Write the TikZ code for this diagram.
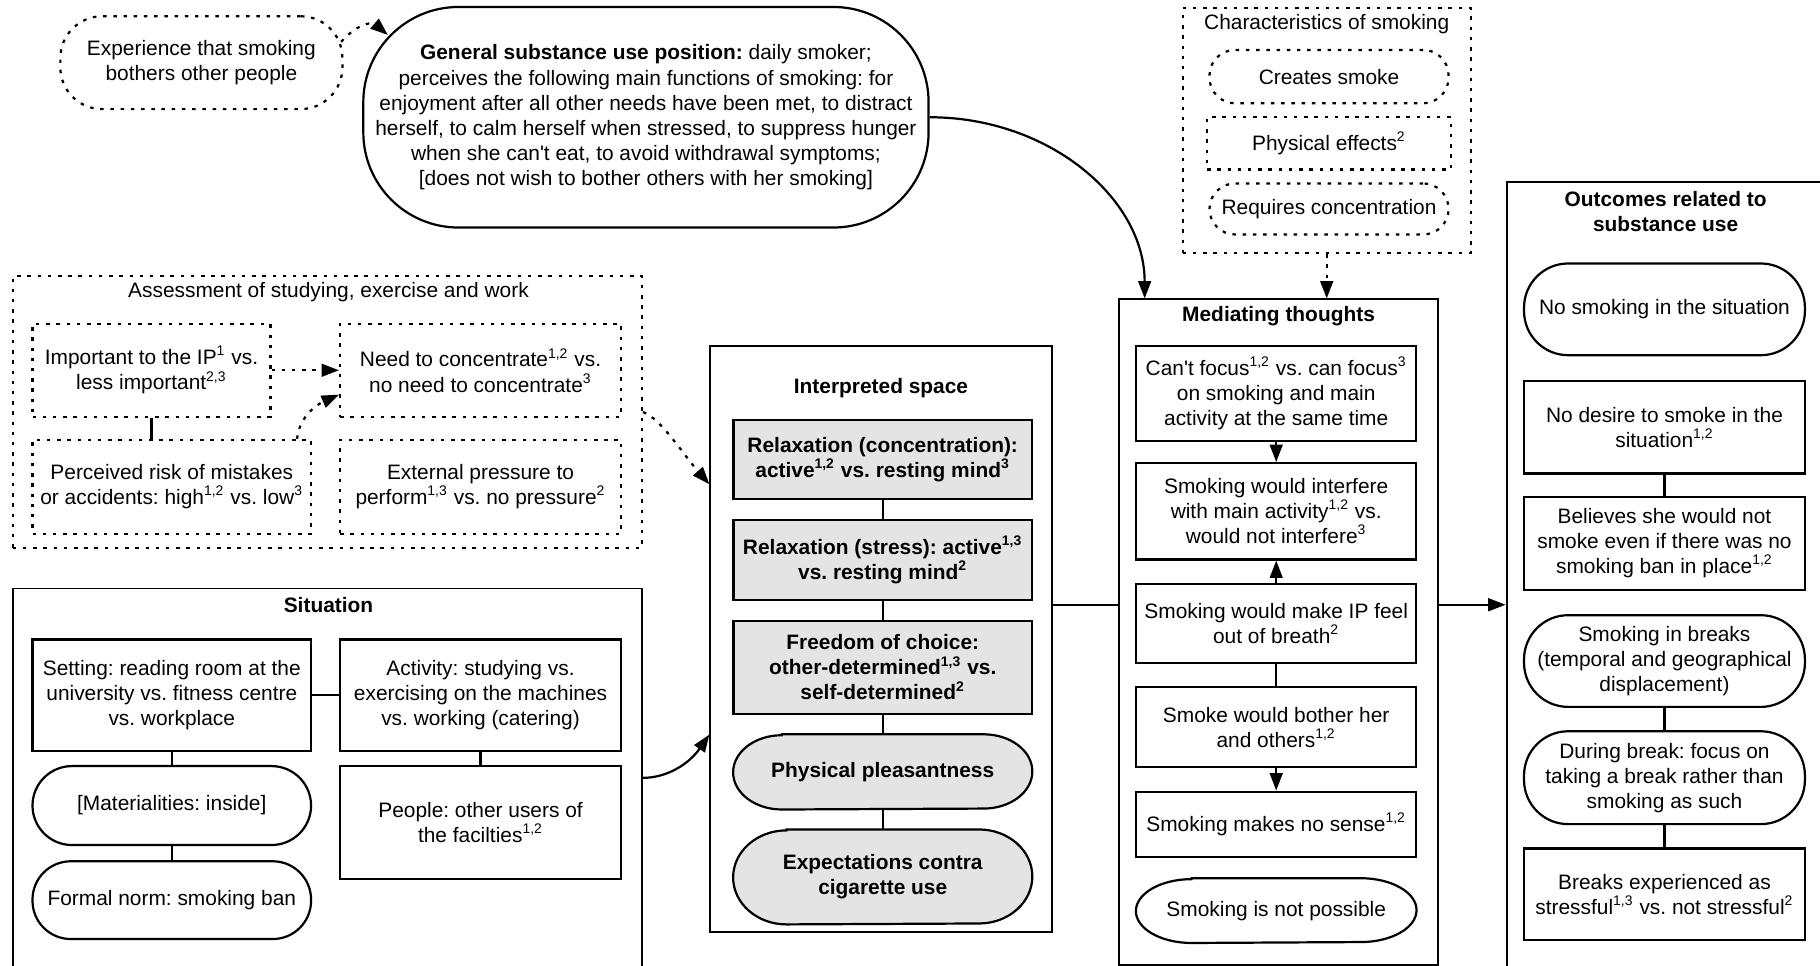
\documentclass[tikz,border=0pt]{standalone}
\usepackage{fontspec}
\setmainfont{Liberation Sans}
\newfontfamily\lib{Liberation Sans}
\usetikzlibrary{arrows.meta,calc,backgrounds}

\newcommand{\fs}{\lib\fontsize{9pt}{10.8pt}\selectfont\frenchspacing}
\newcommand{\sups}[1]{\textsuperscript{#1}}
\definecolor{boxgray}{HTML}{E4E4E4}

% Oval outline with elliptical ends around a named node:
% #1 style, #2 node, #3 end x-radius (pt), #4 end y-radius (pt)
\newcommand{\ovalframe}[4]{%
  \path[#1] ($(#2.north west)+(2*#3,0)$) -- ($(#2.north east)+(-2*#3,0)$)
    arc[start angle=90,end angle=-90,x radius=#3pt,y radius=#4pt]
    -- ($(#2.south west)+(2*#3,0)$)
    arc[start angle=270,end angle=90,x radius=#3pt,y radius=#4pt] -- cycle;}

\begin{document}
\begin{tikzpicture}[x=0.5pt,y=-0.5pt,
  every node/.style={font=\fs, inner sep=0pt, align=center},
  sz/.code 2 args={%
    \pgfmathsetlengthmacro\nodew{#1*0.5pt}%
    \pgfmathsetlengthmacro\nodeh{#2*0.5pt}%
    \edef\nodetmp{\noexpand\pgfkeysalso{minimum width=\nodew,minimum height=\nodeh}}\nodetmp},
  cont/.style={draw, line width=0.85pt},
  bx/.style={draw, line width=0.95pt},
  gbx/.style={bx, fill=boxgray, font=\fs\bfseries},
  dbx/.style={draw, line width=0.95pt, dash pattern=on 1.5pt off 2.9pt},
  ttl/.style={font=\fs\bfseries},
  conn/.style={line width=0.95pt},
  arr/.style={conn, -{Triangle[length=7.5pt,width=5.5pt]}},
  darr/.style={arr, dash pattern=on 1.5pt off 2.9pt},
]
\useasboundingbox (0,0) rectangle (1568,832);
\begin{scope}[on background layer]
  \fill[white] (0,0) rectangle (1568,832);
\end{scope}
\clip (0,0) rectangle (1568,832);

% ---------- top row ----------
\node[dbx, rounded corners=18pt, sz={243}{80}] (exp) at (173.5,54)
  {Experience that smoking\\bothers other people};
\node[bx, rounded corners=41pt, sz={487}{190}] (gen) at (556.5,101)
  {\textbf{General substance use position:} daily smoker;\\perceives the following main functions of smoking: for\\enjoyment after all other needs have been met, to distract\\herself, to calm herself when stressed, to suppress hunger\\when she can't eat, to avoid withdrawal symptoms;\\{}[does not wish to bother others with her smoking]};

\node[dbx, sz={248}{211}] (chr) at (1143,112.5) {};
\node (chrt) at (1143,21) {Characteristics of smoking};
\node[dbx, rounded corners=11pt, sz={206}{46}] (smk) at (1145,66) {Creates smoke};
\node[dbx, sz={210}{45}] (phy) at (1145,123.5) {Physical effects\sups{2}};
\node[dbx, rounded corners=11pt, sz={206}{44}] (rcn) at (1145,180) {Requires concentration};

% ---------- assessment ----------
\node[dbx, sz={542}{234}] (ass) at (282,355) {};
\node (asst) at (283,252) {Assessment of studying, exercise and work};
\node[dbx, sz={205}{80}] (a1) at (130.5,319) {Important to the IP\sups{1} vs.\\less important\sups{2,3}};
\node[dbx, sz={242}{80}] (a2) at (414,319) {Need to concentrate\sups{1,2} vs.\\no need to concentrate\sups{3}};
\node[dbx, sz={240}{81}] (a3) at (148,419.5) {Perceived risk of mistakes\\or accidents: high\sups{1,2} vs. low\sups{3}};
\node[dbx, sz={242}{81}] (a4) at (414,419.5) {External pressure to\\perform\sups{1,3} vs. no pressure\sups{2}};

% ---------- situation ----------
\node[cont, sz={542}{393}] (sit) at (282,703.5) {};
\node[ttl] (sitt) at (283,521) {Situation};
\node[bx, sz={240}{96}] (s1) at (148,599) {Setting: reading room at the\\university vs. fitness centre\\vs. workplace};
\node[bx, sz={242}{96}] (s2) at (414,599) {Activity: studying vs.\\exercising on the machines\\vs. working (catering)};
\node[bx, rounded corners=17pt, sz={240}{68}] (s3) at (148,694) {[Materialities: inside]};
\node[bx, rounded corners=16.5pt, sz={240}{67}] (s4) at (148,775.5) {Formal norm: smoking ban};
\node[bx, sz={242}{97}] (s5) at (414,708.5) {People: other users of\\the facilties\sups{1,2}};

% ---------- interpreted space ----------
\node[cont, sz={294}{505}] (int) at (759,550.5) {};
\node[ttl] (intt) at (759,334) {Interpreted space};
\node[gbx, sz={257}{68}] (i1) at (760.5,396) {Relaxation (concentration):\\active\sups{1,2} vs. resting mind\sups{3}};
\node[gbx, sz={257}{69}] (i2) at (760.5,482.5) {Relaxation (stress): active\sups{1,3}\\vs. resting mind\sups{2}};
\node[gbx, sz={257}{80}] (i3) at (760.5,575) {Freedom of choice:\\other-determined\sups{1,3} vs.\\self-determined\sups{2}};
\node[ttl, sz={257}{64}] (i4) at (760.5,665) {Physical pleasantness};
\node[ttl, sz={257}{81}] (i5) at (760.5,755.5) {Expectations contra\\cigarette use};
\begin{scope}[on background layer]
  \ovalframe{bx, fill=boxgray}{i4}{21}{16}
  \ovalframe{bx, fill=boxgray}{i5}{23}{20.25}
\end{scope}

% ---------- mediating thoughts ----------
\node[cont, sz={275}{573}] (med) at (1101.5,544.5) {};
\node[ttl] (medt) at (1101.5,272) {Mediating thoughts};
\node[bx, sz={241}{82}] (m1) at (1099.5,339) {Can't focus\sups{1,2} vs. can focus\sups{3}\\on smoking and main\\activity at the same time};
\node[bx, sz={241}{83}] (m2) at (1099.5,440.5) {Smoking would interfere\\with main activity\sups{1,2} vs.\\would not interfere\sups{3}};
\node[bx, sz={241}{68}] (m3) at (1099.5,537) {Smoking would make IP feel\\out of breath\sups{2}};
\node[bx, sz={241}{69}] (m4) at (1099.5,626.5) {Smoke would bother her\\and others\sups{1,2}};
\node[bx, sz={241}{56}] (m5) at (1099.5,710) {Smoking makes no sense\sups{1,2}};
\node[sz={241}{55}] (m6) at (1099.5,784.5) {Smoking is not possible};
\ovalframe{bx}{m6}{24}{13.75}

% ---------- outcomes ----------
\node[cont, sz={302}{743}] (out) at (1449,528.5) {};
\node[ttl] (outt) at (1435,182) {Outcomes related to\\substance use};
\node[bx, rounded corners=19pt, sz={242}{79}] (o1) at (1434,266.5) {No smoking in the situation};
\node[bx, sz={242}{80}] (o2) at (1434,368) {No desire to smoke in the\\situation\sups{1,2}};
\node[bx, sz={242}{80}] (o3) at (1434,468) {Believes she would not\\smoke even if there was no\\smoking ban in place\sups{1,2}};
\node[bx, rounded corners=19pt, sz={242}{79}] (o4) at (1434,569.5) {Smoking in breaks\\(temporal and geographical\\displacement)};
\node[bx, rounded corners=19pt, sz={242}{80}] (o5) at (1434,670) {During break: focus on\\taking a break rather than\\smoking as such};
\node[bx, sz={242}{79}] (o6) at (1434,770.5) {Breaks experienced as\\stressful\sups{1,3} vs. not stressful\sups{2}};

% ---------- connectors ----------
\coordinate (j) at (0,521);

\draw[darr] ($(exp.north east)+(-2,23)$) .. controls +(12,-14) and +(-14,-12) .. ($(gen.north west)+(22,25)$);
\draw[arr] (gen.east) .. controls +(103,0) and +(0,-86) .. ($(med.north west)+(23,0)$);
\draw[darr] (chr.south) -- (chr.south |- med.north);

\draw[darr] (a1.east) -- (a2.west);
\draw[conn] (a1.south) -- (a1.south |- a3.north);
\draw[darr] ($(a3.north east)+(-13,0)$) .. controls +(2,-20) and +(-18,8) .. ($(a2.west)+(0,21)$);
\draw[darr] (ass.east) .. controls +(15,5) and +(-22,-25) .. ($(int.north west)+(0,120)$);

\draw[conn] (s1.east) -- (s2.west);
\draw[conn] (s1.south) -- (s3.north);
\draw[conn] (s3.south) -- (s4.north);
\draw[conn] (s2.south) -- (s5.north);
\draw[arr] ($(sit.north east)+(0,164)$) .. controls +(20,0) and +(-18,26) .. ($(int.south west)+(0,-171)$);

\draw[conn] (i1.south) -- (i2.north);
\draw[conn] (i2.south) -- (i3.north);
\draw[conn] (i3.south) -- (i4.north);
\draw[conn] (i4.south) -- (i5.north);

\draw[conn] (int.east |- j) -- (med.west |- j);

\draw[arr] (m1.south) -- (m2.north);
\draw[arr] (m3.north) -- (m2.south);
\draw[conn] (m3.south) -- (m4.north);
\draw[arr] (m4.south) -- (m5.north);

\draw[arr] (med.east |- j) -- (out.west |- j);

\draw[conn] (o2.south) -- (o3.north);
\draw[conn] (o4.south) -- (o5.north);
\draw[conn] (o5.south) -- (o6.north);
\end{tikzpicture}
\end{document}
